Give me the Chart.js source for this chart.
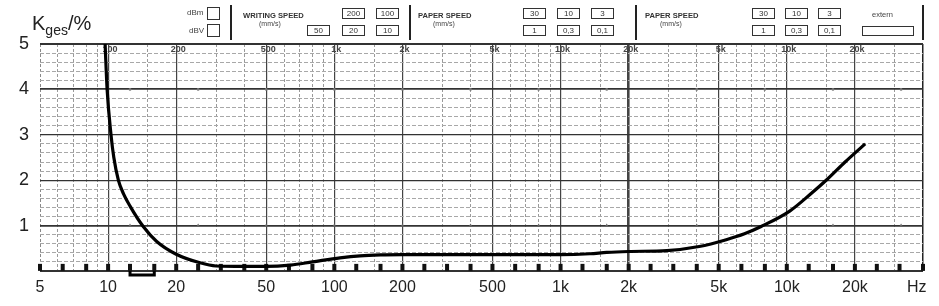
<!DOCTYPE html>
<html>
<head>
<meta charset="utf-8">
<script src="https://cdn.jsdelivr.net/npm/chart.js@4.4.1/dist/chart.umd.min.js"></script>
<style>
body{margin:0;background:#fff;}
#wrap{position:relative;width:939px;height:306px;font-family:'Liberation Sans',Arial,sans-serif;color:#222;overflow:hidden;}
#chart{position:absolute;left:0;top:0;}
.t{position:absolute;white-space:nowrap;}
.box{position:absolute;border:1px solid #333;font-size:8px;text-align:center;line-height:9px;height:9px;width:21px;color:#333;}
.sep{position:absolute;width:2px;background:#222;top:5px;height:35px;}
.cap{font-size:7.6px;font-weight:bold;color:#333;}
.unit{font-size:7px;color:#444;}
</style>
</head>
<body>
<div id="wrap">
  <canvas id="chart" width="939" height="306"></canvas>

  <div class="t" style="left:32px;top:12px;font-size:20px;">K<span style="font-size:14px;position:relative;top:5px;">ges</span>/%</div>

  <div class="t unit" style="left:187px;top:8px;font-size:8px;">dBm</div>
  <div class="box" style="left:207px;top:7px;width:11px;height:11px;"></div>
  <div class="t unit" style="left:189px;top:26px;font-size:8px;">dBV</div>
  <div class="box" style="left:207px;top:24px;width:11px;height:11px;"></div>
  <div class="sep" style="left:230px;"></div>

  <div class="t cap" style="left:243px;top:11px;">WRITING SPEED</div>
  <div class="t unit" style="left:259px;top:20px;">(mm/s)</div>
  <div class="box" style="left:342px;top:8px;">200</div>
  <div class="box" style="left:376px;top:8px;">100</div>
  <div class="box" style="left:307px;top:25px;">50</div>
  <div class="box" style="left:342px;top:25px;">20</div>
  <div class="box" style="left:376px;top:25px;">10</div>
  <div class="sep" style="left:409px;"></div>

  <div class="t cap" style="left:418px;top:11px;">PAPER SPEED</div>
  <div class="t unit" style="left:433px;top:20px;">(mm/s)</div>
  <div class="box" style="left:523px;top:8px;">30</div>
  <div class="box" style="left:557px;top:8px;">10</div>
  <div class="box" style="left:591px;top:8px;">3</div>
  <div class="box" style="left:523px;top:25px;">1</div>
  <div class="box" style="left:557px;top:25px;">0,3</div>
  <div class="box" style="left:591px;top:25px;">0,1</div>
  <div class="sep" style="left:635px;"></div>

  <div class="t cap" style="left:645px;top:11px;">PAPER SPEED</div>
  <div class="t unit" style="left:660px;top:20px;">(mm/s)</div>
  <div class="box" style="left:752px;top:8px;">30</div>
  <div class="box" style="left:785px;top:8px;">10</div>
  <div class="box" style="left:818px;top:8px;">3</div>
  <div class="box" style="left:752px;top:25px;">1</div>
  <div class="box" style="left:785px;top:25px;">0,3</div>
  <div class="box" style="left:818px;top:25px;">0,1</div>
  <div class="t unit" style="left:872px;top:10px;font-size:7.5px;">extern</div>
  <div class="box" style="left:862px;top:26px;width:50px;height:8px;"></div>
  <div class="sep" style="left:922px;"></div>

  <div class="t" style="left:907px;top:278px;font-size:16px;">Hz</div>
</div>

<script>
// distortion curve
const curveHz = [9.7, 9.9, 10.3, 10.6, 11.1, 11.7, 12.5, 14.3, 16.4, 20, 25.5, 30, 40, 50, 64, 80, 106, 130, 160, 200, 500, 1000, 1350, 1600, 2000, 2950, 4100, 5400, 6500, 7700, 10300, 12700, 15100, 18100, 22200];
const curveK = [5.0, 4.0, 3.0, 2.5, 2.0, 1.7, 1.43, 0.98, 0.65, 0.37, 0.18, 0.11, 0.1, 0.1, 0.13, 0.2, 0.29, 0.335, 0.355, 0.36, 0.36, 0.36, 0.38, 0.41, 0.43, 0.45, 0.54, 0.69, 0.82, 0.98, 1.32, 1.69, 2.02, 2.4, 2.8];

// bottom axis labels
const xTickHz = [5, 10, 20, 50, 100, 200, 500, 1000, 2000, 5000, 10000, 20000];
const xTickText = ['5', '10', '20', '50', '100', '200', '500', '1k', '2k', '5k', '10k', '20k'];

// labels printed on the paper itself (top edge)
const paperHz = [10, 20, 50, 100, 200, 500, 1000, 2000, 5000, 10000, 20000];
const paperText = ['100', '200', '500', '1k', '2k', '5k', '10k', '20k', '5k', '10k', '20k'];

// recorder timing marks on the 0 line and small marks on the 1 and 4 lines
const markHz = [5, 6.3, 8, 10, 12.5, 16, 20, 25, 31.5, 40, 50, 63, 80, 100, 125, 160, 200, 250, 315, 400, 500, 630, 800, 1000, 1250, 1600, 2000, 2500, 3150, 4000, 5000, 6300, 8000, 10000, 12500, 16000, 20000, 25000, 31500, 40000];
const triHz = [12.5, 25, 50, 100, 200, 400, 800, 1600, 4000, 8000, 16000, 32000];
const bracketHz = [12.5, 12.5, 16, 16];
const bracketK = [0, -0.09, -0.09, 0];

const yGrid = [0, 0.2, 0.4, 0.6, 0.8, 1, 1.2, 1.4, 1.6, 1.8, 2, 2.2, 2.4, 2.6, 2.8, 3, 3.2, 3.4, 3.6, 3.8, 4, 4.2, 4.4, 4.6, 4.8, 5];

const xGrid = [];
[1, 10, 100, 1000, 10000].forEach(d => {
  [1, 1.5, 2, 3, 4, 5, 6, 7, 8, 9].forEach(m => {
    const v = Math.round(d * m * 10) / 10;
    if (v >= 5 && v <= 40000) xGrid.push(v);
  });
});

const mant = v => Math.round(v / Math.pow(10, Math.floor(Math.log10(v) + 1e-9)) * 10) / 10;
const isMajor = v => [1, 2, 5].includes(mant(v));

const FONT = "'Liberation Sans', Arial, sans-serif";

const paperLabels = {
  id: 'paperLabels',
  beforeDatasetsDraw(chart) {
    const ctx = chart.ctx, xs = chart.scales.x, top = chart.chartArea.top;
    ctx.save();
    ctx.font = "bold 9px " + FONT;
    ctx.fillStyle = '#444';
    ctx.textAlign = 'center';
    ctx.textBaseline = 'middle';
    paperHz.forEach((f, i) => ctx.fillText(paperText[i], xs.getPixelForValue(f) + 2, top + 6));
    ctx.restore();
  }
};

new Chart(document.getElementById('chart'), {
  type: 'line',
  data: {
    datasets: [
      {
        data: curveHz.map((f, i) => ({x: f, y: curveK[i]})),
        borderColor: '#000',
        borderWidth: 3.2,
        pointRadius: 0,
        cubicInterpolationMode: 'monotone'
      },
      {
        data: markHz.map(f => ({x: f, y: 0.08})),
        showLine: false,
        pointStyle: 'line',
        rotation: 90,
        pointRadius: 3.5,
        pointBorderWidth: 4,
        pointBorderColor: '#111',
        clip: false
      },
      {
        data: triHz.map(f => ({x: f, y: 1})),
        showLine: false,
        pointStyle: 'triangle',
        pointRadius: 2.2,
        pointBackgroundColor: '#666',
        pointBorderColor: '#666',
        pointBorderWidth: 0
      },
      {
        data: triHz.map(f => ({x: f, y: 4})),
        showLine: false,
        pointRadius: 1.4,
        pointBackgroundColor: '#777',
        pointBorderWidth: 0
      },
      {
        data: bracketHz.map((f, i) => ({x: f, y: bracketK[i]})),
        borderColor: '#000',
        borderWidth: 3,
        pointRadius: 0,
        tension: 0,
        clip: false
      }
    ]
  },
  options: {
    responsive: false,
    animation: false,
    layout: {padding: {left: 0, top: 44, right: 16, bottom: 0}},
    plugins: {legend: {display: false}, tooltip: {enabled: false}},
    scales: {
      x: {
        type: 'logarithmic',
        min: 5,
        max: 40000,
        afterBuildTicks: s => { s.ticks = xGrid.map(v => ({value: v})); },
        afterFit: s => { s.height = 35; },
        ticks: {
          autoSkip: false,
          maxRotation: 0,
          minRotation: 0,
          padding: 7,
          color: '#222',
          font: {size: 16, family: FONT},
          callback: v => {
            const i = xTickHz.indexOf(v);
            return i >= 0 ? xTickText[i] : '';
          }
        },
        grid: {
          drawTicks: false,
          color: c => {
            const v = c.tick.value;
            if (v === 5) return '#888';
            if (v === 40000) return '#222';
            return isMajor(v) ? '#444' : '#9a9a9a';
          },
          lineWidth: c => {
            const v = c.tick.value;
            if (v === 2000) return 2.6;
            if (v === 40000) return 1.5;
            return isMajor(v) && v !== 5 ? 1.2 : 1;
          }
        },
        border: {
          display: false,
          dash: c => {
            const v = c.tick ? c.tick.value : 0;
            return (v === 5 || (!isMajor(v) && v !== 40000)) ? [3, 2] : [];
          }
        }
      },
      y: {
        type: 'linear',
        min: 0,
        max: 5,
        afterBuildTicks: s => { s.ticks = yGrid.map(v => ({value: v})); },
        afterFit: s => { s.width = 40; },
        ticks: {
          autoSkip: false,
          padding: 11,
          color: '#222',
          font: {size: 18, family: FONT},
          callback: v => (Number.isInteger(v) && v > 0) ? String(v) : ''
        },
        grid: {
          drawTicks: false,
          color: c => Number.isInteger(c.tick.value) ? '#333' : '#a8a8a8',
          lineWidth: c => {
            const v = c.tick.value;
            if (v === 5 || v === 0) return 2;
            if (v === 4 || v === 1) return 1.8;
            return Number.isInteger(v) ? 1.3 : 1;
          }
        },
        border: {
          display: false,
          dash: c => {
            const v = c.tick ? c.tick.value : 0;
            return Number.isInteger(v) ? [] : [4, 2];
          }
        }
      }
    }
  },
  plugins: [paperLabels]
});
</script>
</body>
</html>
